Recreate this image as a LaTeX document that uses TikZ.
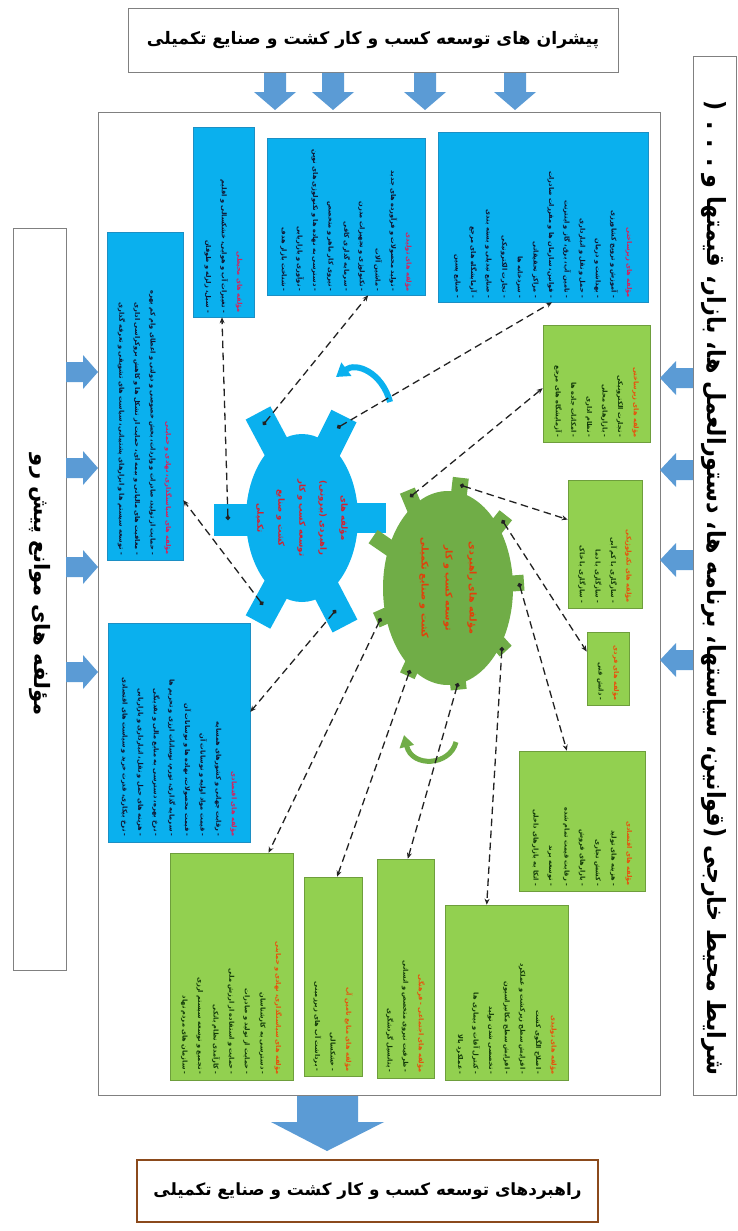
\documentclass[tikz,border=0pt]{standalone}
\usepackage{fontspec}
\usepackage{graphicx}
\usetikzlibrary{arrows.meta,fit,calc}
\TeXXeTstate=1
\newfontfamily\fa[Script=Arabic]{DejaVu Sans}
\newcommand\RL[1]{\beginR #1\endR}
\definecolor{boxblue}{HTML}{0AB0EE}
\definecolor{boxblueedge}{HTML}{1C8FC4}
\definecolor{boxgreen}{HTML}{92D050}
\definecolor{boxgreenedge}{HTML}{6E9E3C}
\definecolor{gearblue}{HTML}{0AB0EE}
\definecolor{geargreen}{HTML}{70AD47}
\definecolor{arrowblue}{HTML}{5B9BD5}
\definecolor{titlered}{HTML}{D8205A}
\definecolor{titleorange}{HTML}{E8500C}
\definecolor{geartxtred}{HTML}{D4202E}
\definecolor{geartxtor}{HTML}{E0400A}
\definecolor{bluetext}{HTML}{101430}
\definecolor{greentext}{HTML}{123A08}
\definecolor{connc}{HTML}{222222}
\definecolor{framegray}{HTML}{808080}
\definecolor{brownedge}{HTML}{8B4A1C}
\newcommand\tb[1]{{\color{titlered}\RL{#1}}}
\newcommand\tg[1]{{\color{titleorange}\RL{#1}}}
\begin{document}
\begin{tikzpicture}[x=1pt,y=-1pt,
  bbox/.style={fill=boxblue, draw=boxblueedge, line width=0.6pt, inner sep=0pt},
  gbox/.style={fill=boxgreen, draw=boxgreenedge, line width=0.6pt, inner sep=0pt},
  btxt/.style={font=\fa\bfseries\fontsize{6.6}{15.6}\selectfont, text=bluetext, align=right, inner sep=0pt, rotate=-90},
  gtxt/.style={btxt, text=greentext},
  conn/.style={draw=connc, line width=1.3pt, dash pattern=on 7.5pt off 4.5pt, {Circle[length=4.5pt]}-{Stealth[length=6pt,width=5pt]}},
  framebox/.style={draw=framegray, line width=0.8pt, inner sep=0pt},
  sidetxt/.style={font=\fa\bfseries, inner sep=0pt, text=black},
  darrow/.pic={\fill[arrowblue] (-11,0) -- (11,0) -- (11,19) -- (21,19) -- (0,37) -- (-21,19) -- (-11,19) -- cycle;},
  rarrow/.pic={\fill[arrowblue] (0,-10) -- (17,-10) -- (17,-17) -- (32,0) -- (17,17) -- (17,10) -- (0,10) -- cycle;},
  larrow/.pic={\fill[arrowblue] (0,-10) -- (-17,-10) -- (-17,-17) -- (-33,0) -- (-17,17) -- (-17,10) -- (0,10) -- cycle;}
]
\fill[white] (0,0) rectangle (738,1231);
\useasboundingbox (0,0) rectangle (738,1231);

% ---------- outer boxes ----------
\node[framebox, fit={(128,8)(618,72)}] (top) {};
\node[sidetxt] (toptxt) at (top.center) {\resizebox{452pt}{!}{\RL{پیشران های توسعه کسب و کار کشت و صنایع تکمیلی}}};

\node[framebox, fit={(98,112)(660,1095)}] (frame) {};

\node[framebox, fit={(693,56)(736,1095)}] (rbox) {};
\node[sidetxt, rotate=-90] (rtxt) at (714,588) {\resizebox{975pt}{19pt}{\RL{شرایط محیط خارجی (قوانین، سیاستها، برنامه ها، دستورالعمل ها، بازار، قیمتها و . . . (}}};

\node[framebox, fit={(13,228)(66,970)}] (lbox) {};
\node[sidetxt, rotate=-90] (ltxt) at (40,585) {\resizebox{262pt}{!}{\RL{مؤلفه های موانع پیش رو}}};

\node[draw=brownedge, line width=2.2pt, inner sep=0pt, fit={(137,1160)(598,1222)}] (bot) {};
\node[sidetxt] (bottxt) at (bot.center) {\resizebox{428pt}{!}{\RL{راهبردهای توسعه کسب و کار کشت و صنایع تکمیلی}}};

% ---------- block arrows ----------
\foreach \xx in {275,333,425,515} \pic at (\xx,73) {darrow};
\foreach \yy in {372,468,567,672} \pic at (66,\yy) {rarrow};
\foreach \yy in {378,470,560,660} \pic at (693,\yy) {larrow};
\fill[arrowblue] (297,1096) -- (358,1096) -- (358,1122) -- (384,1122) -- (327,1151) -- (271,1122) -- (297,1122) -- cycle;

% ---------- blue boxes ----------
\node[bbox, fit={(438,132)(648,302)}] (b1) {};
\node[btxt, text width=162pt] (b1t) at (b1.center) {\tb{مؤلفه های زیرساختی}\\
\RL{- آموزش و ترویج کشاورزی}\\
\RL{- بهداشت و درمان}\\
\RL{- حمل و نقل و انبارداری}\\
\RL{- تامین آب، برق، گاز و اینترنت}\\
\RL{- قوانین، سازمان ها و مقررات صادرات}\\
\RL{- مراکز تحقیقاتی}\\
\RL{- سردخانه ها}\\
\RL{- تجارت الکترونیکی}\\
\RL{- صنایع تبدیلی و بسته بندی}\\
\RL{- آزمایشگاه های مرجع}\\
\RL{- صنایع پسین}};

\node[bbox, fit={(267,138)(425,295)}] (b2) {};
\node[btxt, text width=150pt] (b2t) at (b2.center) {\tb{مؤلفه های تولیدی}\\
\RL{- تولید محصولات و فرآورده های جدید}\\
\RL{- ماشین آلات}\\
\RL{- تکنولوژی و تجهیزات مدرن}\\
\RL{- سرمایه گذاری کافی}\\
\RL{- نیروی کار ماهر و متخصص}\\
\RL{- دسترسی به نهاده ها و تکنولوژی های نوین}\\
\RL{- نوآوری و بازاریابی}\\
\RL{- شناخت بازار هدف}};

\node[bbox, fit={(193,127)(254,317)}] (b3) {};
\node[btxt, text width=182pt] (b3t) at (b3.center) {\tb{مؤلفه های محیطی}\\
\RL{- تغییرات آب و هوایی، خشکسالی و اقلیم}\\
\RL{- سیل، زلزله و طوفان}};

\node[bbox, fit={(107,232)(183,560)}] (b4) {};
\node[btxt, text width=318pt] (b4t) at (b4.center) {\tb{مؤلفه های سیاستگذاری، نهادی و حمایتی}\\
\RL{- حمایت از تولید، صادرات و واردات، بخش خصوصی و دولتی و اعطای وام کم بهره}\\
\RL{- معافیت های مالیاتی و بیمه ای، حمایت از تشکل ها و کاهش بروکراسی اداری}\\
\RL{- توسعه سیستم ها و ابزارهای پشتیبانی، سیاست های تشویقی و تعرفه گذاری}};

\node[bbox, fit={(108,623)(250,842)}] (b5) {};
\node[btxt, text width=208pt] (b5t) at (b5.center) {\tb{مؤلفه های اقتصادی}\\
\RL{- رقابت جهانی و کشورهای همسایه}\\
\RL{- قیمت مواد اولیه و نوسانات آن}\\
\RL{- قیمت محصولات، نهاده ها و نوسانات آن}\\
\RL{- سرمایه گذاری، تورم، نوسانات ارزی و تحریم ها}\\
\RL{- نرخ بهره، دسترسی به منابع مالی و نقدینگی}\\
\RL{- هزینه های حمل و نقل، انبارداری و بازاریابی}\\
\RL{- نرخ بیکاری، قدرت خرید و سیاست های اقتصادی}};

% ---------- green boxes ----------
\node[gbox, fit={(543,325)(650,442)}] (g1) {};
\node[gtxt, text width=108pt] (g1t) at (g1.center) {\tg{مؤلفه های زیرساختی}\\
\RL{- تجارت الکترونیکی}\\
\RL{- بازارهای محلی}\\
\RL{- نظام اداری}\\
\RL{- امکانات جاده ها}\\
\RL{- آزمایشگاه های مرجع}};

\node[gbox, fit={(568,480)(642,608)}] (g2) {};
\node[gtxt, text width=118pt] (g2t) at (g2.center) {\tg{مؤلفه های تکنولوژیکی}\\
\RL{- سازگاری با کم آبی}\\
\RL{- سازگاری با دما}\\
\RL{- سازگاری با خاک}};

\node[gbox, fit={(587,632)(629,705)}] (g3) {};
\node[gtxt, text width=64pt] (g3t) at (g3.center) {\tg{مؤلفه های فردی}\\
\RL{- دانش فنی}};

\node[gbox, fit={(519,751)(645,891)}] (g4) {};
\node[gtxt, text width=130pt] (g4t) at (g4.center) {\tg{مؤلفه های اقتصادی}\\
\RL{- هزینه های تولید}\\
\RL{- کشش تجاری}\\
\RL{- بازارهای فروش}\\
\RL{- رقابت قیمت تمام شده}\\
\RL{- توسعه برند}\\
\RL{- اتکا به بازارهای داخلی}};

\node[gbox, fit={(445,905)(568,1080)}] (g5) {};
\node[gtxt, text width=164pt] (g5t) at (g5.center) {\tg{مؤلفه های تولیدی}\\
\RL{- اصلاح الگوی کشت}\\
\RL{- افزایش سطح زیرکشت و عملکرد}\\
\RL{- افزایش سطح مکانیزاسیون}\\
\RL{- تخصصی شدن تولید}\\
\RL{- کنترل آفات و بیماری ها}\\
\RL{- عملکرد بالا}};

\node[gbox, fit={(377,859)(434,1078)}] (g6) {};
\node[gtxt, text width=208pt] (g6t) at (g6.center) {\tg{مؤلفه های اجتماعی - فرهنگی}\\
\RL{- ظرفیت نیروی متخصص و انسانی}\\
\RL{- پتانسیل گردشگری}};

\node[gbox, fit={(304,877)(362,1076)}] (g7) {};
\node[gtxt, text width=190pt] (g7t) at (g7.center) {\tg{مؤلفه های منابع تامین آب}\\
\RL{- خشکسالی}\\
\RL{- برداشت آب های زیرزمینی}};

\node[gbox, fit={(170,853)(293,1080)}] (g8) {};
\node[gtxt, text width=216pt] (g8t) at (g8.center) {\tg{مؤلفه های سیاستگذاری، نهادی و حمایتی}\\
\RL{- دسترسی به کارشناسان}\\
\RL{- حمایت از تولید و صادرات}\\
\RL{- حمایت و استفاده از ارزش ملی}\\
\RL{- کارآمدی نظام بانکی}\\
\RL{- تجمیع و توسعه سیستم ارزی}\\
\RL{- سازمان های مردم نهاد}};

% ---------- blue gear ----------
\coordinate (bc) at (302,518);
\fill[gearblue] (bc) ellipse [x radius=56, y radius=84];
\draw[gearblue, line width=32pt] (252,520) -- (214,520);
\draw[gearblue, line width=30pt] (352,518) -- (386,518);
\draw[gearblue, line width=28pt] (282,458) -- (258,413);
\draw[gearblue, line width=28pt] (322,460) -- (344,416);
\draw[gearblue, line width=28pt] (282,578) -- (258,622);
\draw[gearblue, line width=28pt] (322,582) -- (345,626);
\node[font=\fa\bfseries\fontsize{8.5}{21}\selectfont, text=geartxtred, align=center, inner sep=0pt, rotate=-90] (bg) at (bc) {\RL{مؤلفه های}\\ \RL{راهبردی (بیرونی)}\\ \RL{توسعه کسب و کار}\\ \RL{کشت و صنایع}\\ \RL{تکمیلی}};
\coordinate (btr) at (337,428);
\coordinate (btl) at (263,425);
\coordinate (bl) at (228,520);
\coordinate (bbl) at (263,605);
\coordinate (bbr) at (336,610);

% ---------- green gear ----------
\coordinate (gc) at (448,588);
\fill[geargreen] (gc) ellipse [x radius=65, y radius=97];
\foreach \tx/\ty in {410/497,460/485,502/520,519/583,502/647,458/683,410/670,381/618,378/540}
  \draw[geargreen, line width=16pt] ($(gc)!0.8!(\tx,\ty)$) -- ($(gc)!1.07!(\tx,\ty)$);
\node[font=\fa\bfseries\fontsize{9.5}{24}\selectfont, text=geartxtor, align=center, inner sep=0pt, rotate=-90] (gg) at (gc) {\RL{مؤلفه های راهبردی}\\ \RL{توسعه کسب و کار}\\ \RL{کشت و صنایع تکمیلی}};
\coordinate (gtl) at (410,497);
\coordinate (gt) at (460,485);
\coordinate (gur) at (502,520);
\coordinate (gr) at (519,583);
\coordinate (glr) at (502,647);
\coordinate (gb) at (458,683);
\coordinate (gbl) at (410,670);
\coordinate (gl) at (381,618);

% ---------- rotation arrows ----------
\draw[gearblue, line width=6pt, -{Triangle[length=13pt,width=16pt]}] (390,402) .. controls (382,372) and (356,362) .. (336,377);
\draw[geargreen, line width=5pt, -{Triangle[length=12pt,width=14pt]}] (456,742) .. controls (450,766) and (412,768) .. (404,735);

% ---------- connectors ----------
\draw[conn] (btr) -- ($(b1.south west)!0.543!(b1.south east)$);
\draw[conn] (btl) -- ($(b2.south west)!0.64!(b2.south east)$);
\draw[conn] (bl) -- ($(b3.south west)!0.475!(b3.south east)$);
\draw[conn] (bbl) -- ($(b4.north east)!0.817!(b4.south east)$);
\draw[conn] (bbr) -- ($(b5.north east)!0.406!(b5.south east)$);
\draw[conn] (gtl) -- ($(g1.north west)!0.54!(g1.south west)$);
\draw[conn] (gt) -- ($(g2.north west)!0.31!(g2.south west)$);
\draw[conn] (gur) -- ($(g3.north west)!0.27!(g3.south west)$);
\draw[conn] (gr) -- ($(g4.north west)!0.38!(g4.north east)$);
\draw[conn] (glr) -- ($(g5.north west)!0.34!(g5.north east)$);
\draw[conn] (gb) -- ($(g6.north west)!0.54!(g6.north east)$);
\draw[conn] (gbl) -- ($(g7.north west)!0.57!(g7.north east)$);
\draw[conn] (gl) -- ($(g8.north west)!0.8!(g8.north east)$);
\end{tikzpicture}
\end{document}
